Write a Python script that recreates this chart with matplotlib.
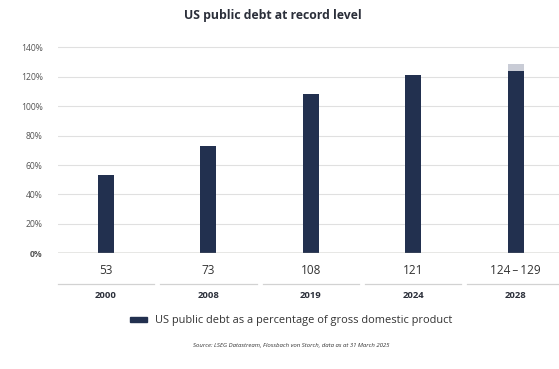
import matplotlib.pyplot as plt
import matplotlib.transforms as mtransforms
from matplotlib.patches import Patch

plt.rcParams['font.family'] = ['Open Sans', 'DejaVu Sans']

years = ["2000", "2008", "2019", "2024", "2028"]
debt = [53, 73, 108, 121, 124]
debt_upper = [0, 0, 0, 0, 5]  # forecast range on top of 2028
value_labels = ["53", "73", "108", "121", "124\u2009\u2013\u2009129"]
yticks = [0, 20, 40, 60, 80, 100, 120, 140]

NAVY = "#22304f"
RANGE = "#c9ccd6"
TEXT = "#2b2f3a"

W, H = 559, 369
fig = plt.figure(figsize=(W / 100, H / 100), dpi=100)

# axes placed in pixel terms
y0_px, scale = 253.3, 1.471   # pixel of 0% and px per percentage point
ymax = 142
top_px = y0_px - ymax * scale
ax = fig.add_axes([58 / W, 1 - y0_px / H, 1 - 58 / W, (y0_px - top_px) / H])

x = list(range(len(years)))
ax.bar(x, debt, width=0.156, color=NAVY, zorder=3)
ax.bar(x, debt_upper, bottom=debt, width=0.156, color=RANGE, zorder=3)

ax.set_xlim(-0.469, 4.424)
ax.set_ylim(0, ymax)
ax.set_yticks(yticks)
ax.set_yticklabels([f"{v}%" for v in yticks], fontsize=6.2, color="#555555")
ax.get_yticklabels()[0].set_fontweight("bold")
ax.tick_params(axis="y", length=0, pad=11)
ax.set_xticks([])
ax.grid(axis="y", color="#e0e0e0", linewidth=0.8, zorder=0)
for s in ax.spines.values():
    s.set_visible(False)
ax.axhline(0, color="#8f8f86", linewidth=1.0, zorder=4)

# rows under the axis: values, separators, years
tr = mtransforms.blended_transform_factory(ax.transData, fig.transFigure)
for i in x:
    fig.text(i, 1 - 270 / H, value_labels[i], transform=tr, ha="center",
             va="center", fontsize=8.5, color="#333333")
    fig.lines.append(plt.Line2D([i - 0.47, i + 0.47], [1 - 284 / H] * 2,
                                transform=tr, color="#d2d2d2", linewidth=0.9))
    fig.text(i, 1 - 295.5 / H, years[i], transform=tr, ha="center",
             va="center", fontsize=6.8, fontweight="bold", color=TEXT)

fig.text(273 / W, 1 - 15 / H, "US public debt at record level", ha="center",
         va="center", fontsize=8.8, fontweight="bold", color=TEXT)

fig.legend(handles=[Patch(color=NAVY)],
           labels=["US public debt as a percentage of gross domestic product"],
           loc="center", bbox_to_anchor=(291 / W, 1 - 321 / H), frameon=False,
           fontsize=7.9, handlelength=1.6, handleheight=0.35, handletextpad=0.7,
           labelcolor="#333333")

fig.text(291 / W, 1 - 346 / H,
         "Source: LSEG Datastream, Flossbach von Storch, data as at 31 March 2025",
         ha="center", va="center", fontsize=4.3, style="italic", color="#333333")

fig.savefig("out.png", dpi=100)
